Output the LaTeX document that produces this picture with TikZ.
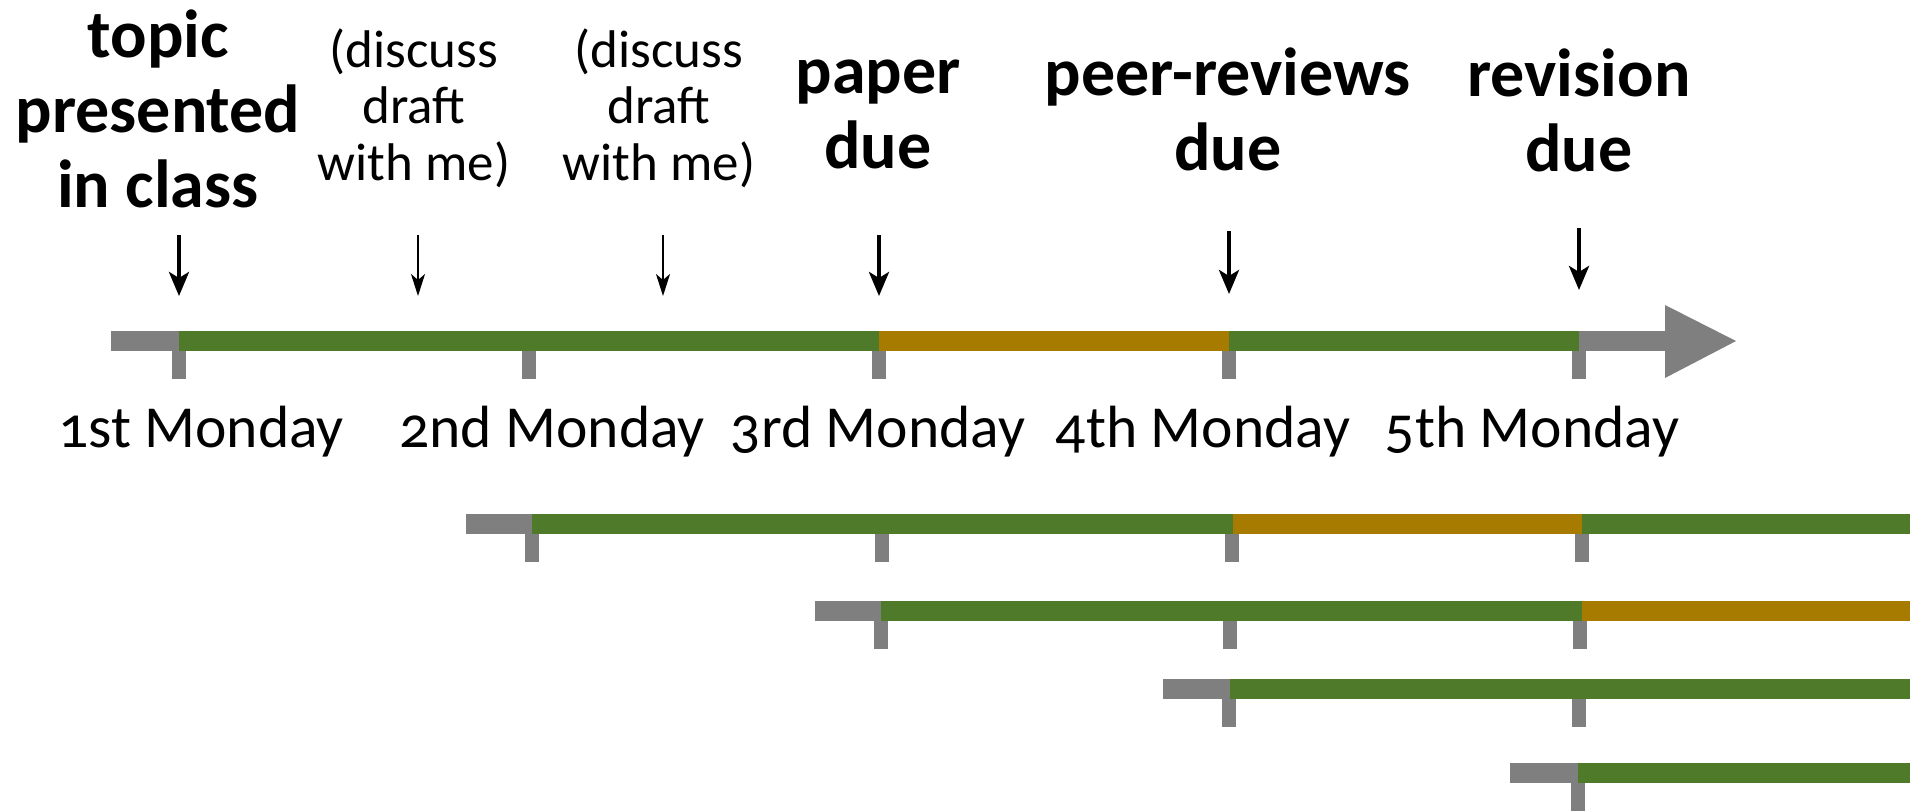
\documentclass[tikz,border=0pt]{standalone}
\usepackage{fontspec}
\setmainfont{Carlito}[Numbers=OldStyle]
\usetikzlibrary{arrows.meta}
\definecolor{bargreen}{HTML}{4E7A2A}
\definecolor{barorange}{HTML}{A77B00}
\definecolor{bargray}{HTML}{7F7F7F}
\newcommand\boldlabelfont{\fontsize{34}{37.5}\selectfont\bfseries}
\newcommand\daylabelfont{\fontsize{29.8}{33}\selectfont}
\newcommand\notelabelfont{\fontsize{26.5}{28.3}\selectfont}
\begin{document}
\begin{tikzpicture}[x=0.5pt,y=-0.5pt,
  boldlabel/.style={font=\boldlabelfont,align=center,inner sep=0pt},
  notelabel/.style={font=\notelabelfont,align=center,inner sep=0pt},
  daylabel/.style={font=\daylabelfont,inner sep=0pt},
  bigarrow/.style={line width=2pt,-{Stealth[length=12pt,width=10pt,inset=3pt]}},
  smallarrow/.style={line width=1pt,-{Stealth[length=11pt,width=7pt,inset=3pt]}},
  graybar/.style={fill=bargray},
  greenbar/.style={fill=bargreen},
  orangebar/.style={fill=barorange}]
\useasboundingbox (0,0) rectangle (1910,810);
% ---------- main timeline (y = 341) ----------
\fill[graybar] (111,331) rectangle (179,351);
\fill[greenbar] (179,331) rectangle (879,351);
\fill[orangebar] (879,331) rectangle (1229,351);
\fill[greenbar] (1229,331) rectangle (1579,351);
\fill[graybar] (1579,331) rectangle (1667,351);
\fill[graybar] (1665,305) -- (1736,341) -- (1665,378) -- cycle;
\foreach \t in {179,529,879,1229,1579}
  \fill[graybar] (\t-7,351) rectangle (\t+7,379);
% ---------- row 2 (y = 524) ----------
\fill[graybar] (466,514) rectangle (532,534);
\fill[greenbar] (532,514) rectangle (1233,534);
\fill[orangebar] (1233,514) rectangle (1582,534);
\fill[greenbar] (1582,514) rectangle (1910,534);
\foreach \t in {532,882,1232,1582}
  \fill[graybar] (\t-7,534) rectangle (\t+7,562);
% ---------- row 3 (y = 611) ----------
\fill[graybar] (815,601) rectangle (881,621);
\fill[greenbar] (881,601) rectangle (1582,621);
\fill[orangebar] (1582,601) rectangle (1910,621);
\foreach \t in {881,1230,1580}
  \fill[graybar] (\t-7,621) rectangle (\t+7,649);
% ---------- row 4 (y = 689) ----------
\fill[graybar] (1163,679) rectangle (1230,699);
\fill[greenbar] (1230,679) rectangle (1910,699);
\foreach \t in {1229,1579}
  \fill[graybar] (\t-7,699) rectangle (\t+7,727);
% ---------- row 5 (y = 773) ----------
\fill[graybar] (1510,763) rectangle (1578,783);
\fill[greenbar] (1578,763) rectangle (1910,783);
\fill[graybar] (1571,783) rectangle (1585,811);
% ---------- top labels ----------
\node[boldlabel] (topic) at (158,109) {topic\\presented\\in class};
\node[notelabel] (draftA) at (414,108) {(discuss\\draft\\with me)};
\node[notelabel] (draftB) at (659,108) {(discuss\\draft\\with me)};
\node[boldlabel] (paper) at (878,114) {paper\\due};
\node[boldlabel] (peer) at (1228,109) {peer-reviews\\due};
\node[boldlabel] (revision) at (1579,110) {revision\\due};
% ---------- arrows ----------
\coordinate (a1s) at (179,235); \coordinate (a1e) at (179,296);
\coordinate (a2s) at (418,235); \coordinate (a2e) at (418,296);
\coordinate (a3s) at (663,235); \coordinate (a3e) at (663,296);
\coordinate (a4s) at (879,235); \coordinate (a4e) at (879,296);
\coordinate (a5s) at (1229,231); \coordinate (a5e) at (1229,294);
\coordinate (a6s) at (1579,228); \coordinate (a6e) at (1579,290);
\draw[bigarrow] (a1s) -- (a1e);
\draw[smallarrow] (a2s) -- (a2e);
\draw[smallarrow] (a3s) -- (a3e);
\draw[bigarrow] (a4s) -- (a4e);
\draw[bigarrow] (a5s) -- (a5e);
\draw[bigarrow] (a6s) -- (a6e);
% ---------- week labels ----------
\node[daylabel] (mon1) at (201,432) {1st Monday};
\node[daylabel] (mon2) at (552,432) {2nd Monday};
\node[daylabel] (mon3) at (878,432) {3rd Monday};
\node[daylabel] (mon4) at (1203,432) {4th Monday};
\node[daylabel] (mon5) at (1532,432) {5th Monday};
\end{tikzpicture}
\end{document}
